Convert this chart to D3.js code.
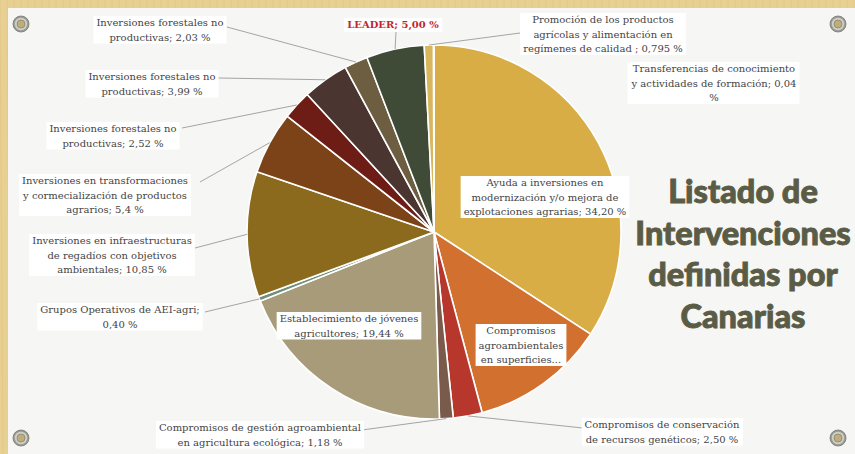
<!DOCTYPE html>
<html>
<head>
<meta charset="utf-8">
<style>
  body { margin: 0; background: #fff; }
  svg { display: block; }
  .lbl { font-family: "DejaVu Serif", serif; font-size: 10px; fill: #444; }
  .leader { fill: #c3252e; font-weight: bold; }
  .title { font-family: Lato, sans-serif; font-weight: 900; font-size: 32.5px; fill: #5a5c46;
           stroke: #5a5c46; stroke-width: 0.9; text-anchor: middle; }
</style>
</head>
<body>
<script src="https://cdn.jsdelivr.net/npm/d3@7"></script>
<script>

// data, clockwise from 12 o'clock
var categories = [
  "Ayuda a inversiones en modernización y/o mejora de explotaciones agrarias",
  "Compromisos agroambientales en superficies agrarias",
  "Compromisos de conservación de recursos genéticos",
  "Compromisos de gestión agroambiental en agricultura ecológica",
  "Establecimiento de jóvenes agricultores",
  "Grupos Operativos de AEI-agri",
  "Inversiones en infraestructuras de regadíos con objetivos ambientales",
  "Inversiones en transformaciones y cormecialización de productos agrarios",
  "Inversiones forestales no productivas (a)",
  "Inversiones forestales no productivas (b)",
  "Inversiones forestales no productivas (c)",
  "LEADER",
  "Promoción de los productos agrícolas y alimentación en regímenes de calidad",
  "Transferencias de conocimiento y actividades de formación"
];
var shares = [34.20, 11.655, 2.50, 1.18, 19.44, 0.40, 10.85, 5.4, 2.52, 3.99, 2.03, 5.00, 0.795, 0.04];

var labelLines = [
  ["Ayuda a inversiones en", "modernización y/o mejora de", "explotaciones agrarias; 34,20 %"],
  ["Compromisos", "agroambientales", "en superficies..."],
  ["Compromisos de conservación", "de recursos genéticos; 2,50 %"],
  ["Compromisos de gestión agroambiental", "en agricultura ecológica; 1,18 %"],
  ["Establecimiento de jóvenes", "agricultores; 19,44 %"],
  ["Grupos Operativos de AEI-agri;", "0,40 %"],
  ["Inversiones en infraestructuras", "de regadíos con objetivos", "ambientales; 10,85 %"],
  ["Inversiones en transformaciones", "y cormecialización de productos", "agrarios; 5,4 %"],
  ["Inversiones forestales no", "productivas; 2,52 %"],
  ["Inversiones forestales no", "productivas; 3,99 %"],
  ["Inversiones forestales no", "productivas; 2,03 %"],
  ["LEADER; 5,00 %"],
  ["Promoción de los productos", "agrícolas y alimentación en", "regímenes de calidad ; 0,795 %"],
  ["Transferencias de conocimiento", "y actividades de formación; 0,04", "%"]
];

var titleLines = ["Listado de", "Intervenciones", "definidas por", "Canarias"];

var colors = ["#d9ad45", "#d2702f", "#b8372c", "#7a5a4b", "#a89b79", "#6f8f7c", "#8b6a1e",
              "#7c4319", "#6d1d16", "#4b3530", "#6d5d41", "#3f4b36", "#d8b75c", "#e2c675"];

// label layout: centre x, first baseline y, leader start (or null)
var labelPos = [
  {x: 545, y: 186, from: null},
  {x: 521, y: 334, from: null},
  {x: 662, y: 428, from: [583, 428]},
  {x: 260, y: 431, from: [362, 430]},
  {x: 349, y: 322, from: null},
  {x: 120, y: 313, from: [205, 312]},
  {x: 112, y: 244, from: [195, 248]},
  {x: 105, y: 184, from: [200, 182]},
  {x: 113, y: 132, from: [182, 128]},
  {x: 152, y: 80, from: [218, 78]},
  {x: 160, y: 26, from: [227, 27]},
  {x: 393, y: 28, from: [396, 32]},
  {x: 603, y: 23, from: [520, 33]},
  {x: 714, y: 72, from: null}
];

var W = 855, H = 454;
var cx = 434, cy = 232, R = 187;

var svg = d3.select("body").append("svg")
  .attr("width", W)
  .attr("height", H);

// wooden frame + paper
svg.append("rect").attr("width", W).attr("height", H).attr("fill", "#e8cf92");
svg.append("g").selectAll("line").data(d3.range(0, W, 7))
  .enter().append("line")
  .attr("x1", function(d) { return d; }).attr("x2", function(d) { return d + 3; })
  .attr("y1", 0).attr("y2", H)
  .attr("stroke", "#d9bc78").attr("stroke-opacity", 0.35);
svg.append("rect").attr("x", 8).attr("y", 8).attr("width", W).attr("height", H)
  .attr("fill", "#f6f6f4");

// screws
var screws = [[21, 24], [838, 24], [21, 438], [838, 438]];
var sg = svg.append("g").selectAll("g").data(screws).enter().append("g")
  .attr("transform", function(d) { return "translate(" + d[0] + "," + d[1] + ")"; });
sg.append("circle").attr("r", 8).attr("fill", "#9b9b96").attr("stroke", "#77766f").attr("stroke-width", 0.8);
sg.append("circle").attr("r", 6.2).attr("fill", "#cfcfca");
sg.append("circle").attr("r", 4).attr("fill", "#bfae7a").attr("stroke", "#8a8670").attr("stroke-width", 0.8);

// pie
var pie = d3.pie().sort(null).value(function(d) { return d; });
var arcs = pie(shares);
var arc = d3.arc().innerRadius(0).outerRadius(R);

var pieG = svg.append("g").attr("transform", "translate(" + cx + "," + cy + ")");
pieG.selectAll("path").data(arcs).enter().append("path")
  .attr("d", arc)
  .attr("fill", function(d, i) { return colors[i]; })
  .attr("stroke", "#ffffff")
  .attr("stroke-width", 1.6)
  .attr("stroke-linejoin", "round");

// leader lines, to the slice edge at mid angle
var edge = d3.arc().innerRadius(R).outerRadius(R);
svg.append("g").selectAll("line").data(arcs.filter(function(d, i) { return labelPos[i].from; }))
  .enter().append("line")
  .attr("x1", function(d) { return labelPos[d.index].from[0]; })
  .attr("y1", function(d) { return labelPos[d.index].from[1]; })
  .attr("x2", function(d) { return cx + edge.centroid(d)[0]; })
  .attr("y2", function(d) { return cy + edge.centroid(d)[1]; })
  .attr("stroke", "#a4a4a4")
  .attr("stroke-width", 1);

// labels with white boxes
var lg = svg.append("g").selectAll("g").data(labelLines).enter().append("g");
lg.each(function(lines, i) {
  var g = d3.select(this);
  var p = labelPos[i];
  var box = g.append("rect").attr("fill", "#ffffff");
  var t = g.append("text")
    .attr("class", i == 11 ? "lbl leader" : "lbl")
    .attr("text-anchor", "middle");
  t.selectAll("tspan").data(lines).enter().append("tspan")
    .attr("x", p.x)
    .attr("y", function(d, j) { return p.y + j * 14.5; })
    .text(function(d) { return d; });
  var bb = t.node().getBBox();
  box.attr("x", bb.x - 3).attr("y", bb.y - 1)
    .attr("width", bb.width + 6).attr("height", bb.height + 2);
});

// title
svg.append("g").selectAll("text").data(titleLines).enter().append("text")
  .attr("class", "title")
  .attr("x", 743)
  .attr("y", function(d, i) { return 203 + i * 41.5; })
  .text(function(d) { return d; });

</script>
</body>
</html>
